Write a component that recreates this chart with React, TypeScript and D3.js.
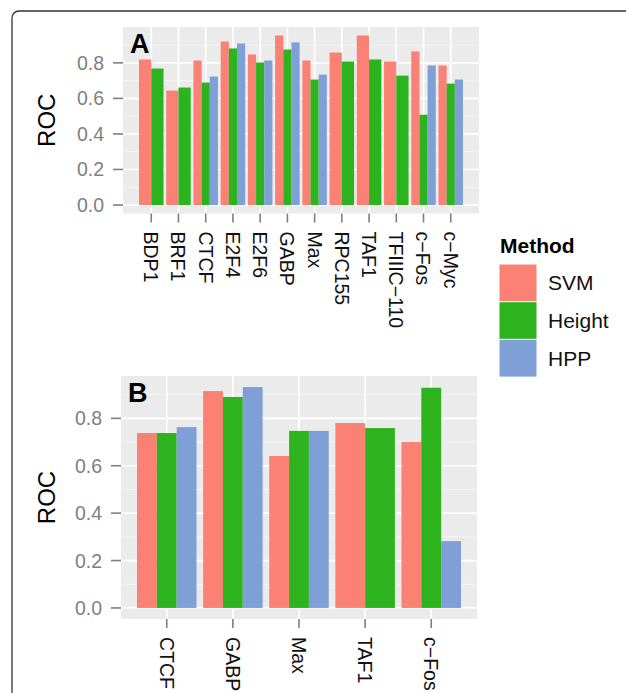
import { useEffect, useRef } from 'react';
import * as d3 from 'd3';

const W = 626, H = 693;
const FONT = '"Liberation Sans", Arial, Helvetica, sans-serif';

const methods = ['SVM', 'Height', 'HPP'];
const methodColors = ['#FA8174', '#2CB31D', '#7FA0D6'];

// Panel A
const tfA = ['BDP1', 'BRF1', 'CTCF', 'E2F4', 'E2F6', 'GABP', 'Max', 'RPC155', 'TAF1', 'TFIIIC\u2212110', 'c\u2212Fos', 'c\u2212Myc'];
const svmA = [0.819, 0.644, 0.813, 0.920, 0.847, 0.954, 0.813, 0.858, 0.954, 0.807, 0.864, 0.785];
const heightA = [0.768, 0.661, 0.689, 0.881, 0.802, 0.875, 0.706, 0.807, 0.819, 0.728, 0.508, 0.683];
const hppA = [null, null, 0.723, 0.909, 0.813, 0.915, 0.734, null, null, null, 0.785, 0.706];

// Panel B
const tfB = ['CTCF', 'GABP', 'Max', 'TAF1', 'c\u2212Fos'];
const svmB = [0.738, 0.915, 0.641, 0.780, 0.700];
const heightB = [0.738, 0.890, 0.747, 0.759, 0.929];
const hppB = [0.763, 0.932, 0.747, null, 0.282];

const yTicks = [0, 0.2, 0.4, 0.6, 0.8];
const yMinor = [0.1, 0.3, 0.5, 0.7, 0.9];

type Panel = {
  label: string;
  cats: string[];
  series: (number | null)[][];
  left: number; right: number; top: number; bottom: number;
};

const panels: Panel[] = [
  { label: 'A', cats: tfA, series: [svmA, heightA, hppA], left: 123, right: 479, top: 27, bottom: 213.5 },
  { label: 'B', cats: tfB, series: [svmB, heightB, hppB], left: 121, right: 477, top: 376, bottom: 619 },
];

export default function App() {
  const ref = useRef<SVGSVGElement>(null);

  useEffect(() => {
    const svg = d3.select(ref.current);
    svg.selectAll('*').remove();

    // outer frame
    svg.append('rect')
      .attr('x', 12).attr('y', 11).attr('width', 700).attr('height', 800)
      .attr('rx', 7).attr('fill', 'none').attr('stroke', '#333').attr('stroke-width', 1.3);

    panels.forEach((p) => {
      const g = svg.append('g');
      const max = d3.max(p.series.flat().filter((v) => v != null) as number[]) ?? 1;
      const y = d3.scaleLinear().domain([-max * 0.05, max * 1.05]).range([p.bottom, p.top]);
      const x = d3.scaleBand<string>().domain(p.cats)
        .range([p.left + 16, p.right - 16]).paddingInner(0.1).paddingOuter(0);

      g.append('rect')
        .attr('x', p.left).attr('y', p.top)
        .attr('width', p.right - p.left).attr('height', p.bottom - p.top)
        .attr('fill', '#EBEBEB');

      g.selectAll('.minor').data(yMinor).join('line')
        .attr('x1', p.left).attr('x2', p.right)
        .attr('y1', (d) => y(d)).attr('y2', (d) => y(d))
        .attr('stroke', '#F6F6F6').attr('stroke-width', 0.9);
      g.selectAll('.majorY').data(yTicks).join('line')
        .attr('x1', p.left).attr('x2', p.right)
        .attr('y1', (d) => y(d)).attr('y2', (d) => y(d))
        .attr('stroke', '#fff').attr('stroke-width', 1.7);
      g.selectAll('.majorX').data(p.cats).join('line')
        .attr('x1', (d) => x(d)! + x.bandwidth() / 2).attr('x2', (d) => x(d)! + x.bandwidth() / 2)
        .attr('y1', p.top).attr('y2', p.bottom)
        .attr('stroke', '#fff').attr('stroke-width', 1.7);

      // bars, dodged among the methods present in each category
      p.cats.forEach((cat, i) => {
        const present = methods.map((m, k) => ({ m, k, v: p.series[k][i] })).filter((d) => d.v != null);
        const inner = d3.scaleBand<string>().domain(present.map((d) => d.m)).range([0, x.bandwidth()]);
        g.selectAll(null).data(present).join('rect')
          .attr('x', (d) => x(cat)! + inner(d.m)!)
          .attr('y', (d) => y(d.v as number))
          .attr('width', inner.bandwidth())
          .attr('height', (d) => y(0) - y(d.v as number))
          .attr('fill', (d) => methodColors[d.k]);
      });

      // y axis
      const ya = g.append('g');
      yTicks.forEach((t) => {
        ya.append('line')
          .attr('x1', p.left - 10).attr('x2', p.left).attr('y1', y(t)).attr('y2', y(t))
          .attr('stroke', '#7F7F7F').attr('stroke-width', 1.6);
        ya.append('text')
          .attr('x', p.left - 19).attr('y', y(t)).attr('dy', '0.36em')
          .attr('text-anchor', 'end').attr('font-size', 19.5).attr('fill', '#7F7F7F')
          .attr('font-family', FONT).text(d3.format('.1f')(t));
      });
      g.append('text')
        .attr('transform', `translate(55,${(p.top + p.bottom) / 2}) rotate(-90)`)
        .attr('text-anchor', 'middle').attr('font-size', 24).attr('fill', '#000')
        .attr('font-family', FONT).text('ROC');

      // x axis
      p.cats.forEach((cat) => {
        const cx = x(cat)! + x.bandwidth() / 2;
        g.append('line')
          .attr('x1', cx).attr('x2', cx).attr('y1', p.bottom).attr('y2', p.bottom + 9)
          .attr('stroke', '#7F7F7F').attr('stroke-width', 1.6);
        g.append('text')
          .attr('transform', `translate(${cx},${p.bottom + 18}) rotate(90)`)
          .attr('dy', '0.36em').attr('text-anchor', 'start')
          .attr('font-size', 19.5).attr('fill', '#111').attr('font-family', FONT)
          .text(cat);
      });

      g.append('text')
        .attr('x', p.left + 7).attr('y', p.top + 26)
        .attr('font-size', 27).attr('font-weight', 'bold').attr('fill', '#000')
        .attr('font-family', FONT).text(p.label);
    });

    // legend
    const lg = svg.append('g').attr('transform', 'translate(499,0)');
    lg.append('text')
      .attr('x', 1).attr('y', 253)
      .attr('font-size', 21).attr('font-weight', 'bold').attr('font-family', FONT)
      .text('Method');
    methods.forEach((m, i) => {
      const y0 = 264 + i * 37.7;
      lg.append('rect')
        .attr('x', 0).attr('y', y0).attr('width', 38).attr('height', 37.7)
        .attr('fill', methodColors[i]).attr('stroke', '#fff').attr('stroke-width', 1);
      lg.append('text')
        .attr('x', 49).attr('y', y0 + 18.8).attr('dy', '0.36em')
        .attr('font-size', 21).attr('font-family', FONT).attr('fill', '#111')
        .text(m);
    });
  }, []);

  return (
    <div style={{ position: 'absolute', left: 0, top: 0 }}>
      <svg ref={ref} width={W} height={H} style={{ display: 'block', background: '#fff' }} />
    </div>
  );
}
